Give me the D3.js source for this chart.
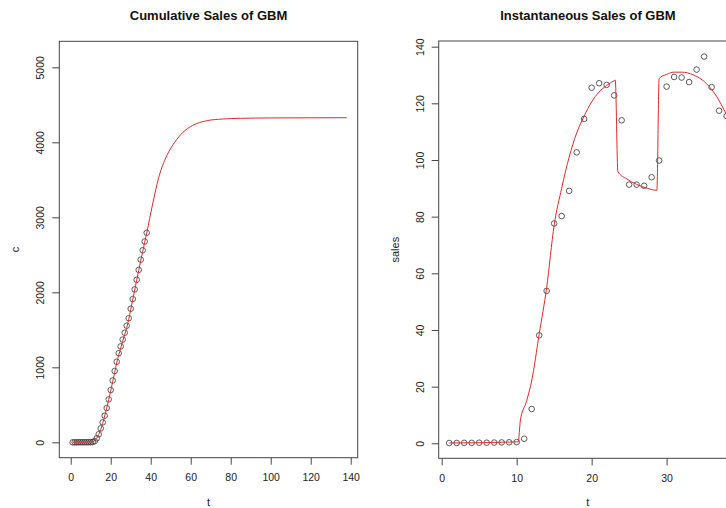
<!DOCTYPE html>
<html>
<head>
<meta charset="utf-8">
<script src="https://cdn.jsdelivr.net/npm/d3@7"></script>
<style>
  body { margin: 0; background: #fff; }
  svg { display: block; font-family: "Liberation Sans", Arial, sans-serif; }
  .tick text { fill: #222; font-size: 10.5px; }
  .tick line { stroke: #444; }
</style>
</head>
<body>
<script>
(function() {

    // Observed periods
    var times = [1, 2, 3, 4, 5, 6, 7, 8, 9, 10, 11, 12, 13, 14, 15, 16, 17, 18, 19,
                 20, 21, 22, 23, 24, 25, 26, 27, 28, 29, 30, 31, 32, 33, 34, 35, 36, 37, 38];

    // Instantaneous sales (right panel points)
    var sales = [0.1, 0.1, 0.15, 0.15, 0.2, 0.2, 0.25, 0.3, 0.35, 0.4,
                 1.6, 12.1, 38.1, 53.8, 77.6, 80.2, 89.1, 102.7, 114.5, 125.5,
                 127.1, 126.5, 122.8, 114.0, 91.3, 91.3, 90.9, 93.9, 99.8, 125.9,
                 129.3, 129.1, 127.5, 131.9, 136.5, 125.7, 117.4, 115.5];

    // Cumulative sales (left panel points)
    var cumSales = [0, 0, 0, 1, 1, 1, 1, 1, 2, 2,
                    4, 16, 54, 108, 185, 266, 355, 457, 572, 697,
                    825, 951, 1074, 1188, 1279, 1370, 1461, 1555, 1655, 1781,
                    1910, 2039, 2167, 2299, 2435, 2561, 2678, 2794];

    // Fitted GBM cumulative curve
    var fitCumT = [1, 10, 11, 12, 13, 14, 15, 16, 17, 18, 19, 20, 21, 22, 23, 24, 25, 26, 27, 28,
                   29, 30, 31, 32, 33, 34, 35, 36, 37, 38, 41, 44, 48, 52, 56, 61, 68, 76, 85, 100, 120, 138];
    var fitCum = [0, 3, 7, 25, 55, 103, 170, 254, 350, 455, 568, 686, 808, 933, 1060, 1163, 1256, 1347, 1438, 1528,
                  1640, 1770, 1900, 2031, 2162, 2292, 2420, 2545, 2668, 2790, 3180, 3530, 3820, 4000, 4130, 4225, 4288, 4311, 4320, 4325, 4327, 4328];

    // Fitted GBM instantaneous curve
    var fitInstT = [1, 10.2, 10.5, 11.3, 12, 13, 14, 15, 16, 17, 18, 19, 20, 21, 22, 23, 23.15,
                    23.5, 24.7, 26, 27.3, 28.7, 29.0, 30, 31, 32, 33.6, 35.3, 36.7, 37.8, 39];
    var fitInst = [0.1, 0.5, 8.2, 14.7, 22, 38.5, 55, 77, 90, 101, 109.5, 115.5, 120.5, 124, 126.3, 128, 128.2,
                   95.9, 93.3, 91.4, 90.1, 89.3, 128.8, 130.2, 131, 131, 130, 127, 122.3, 117, 111];

    // Tick labels
    var cumXTicks = [0, 20, 40, 60, 80, 100, 120, 140];
    var cumYTicks = [0, 1000, 2000, 3000, 4000, 5000];
    var instXTicks = [0, 10, 20, 30];
    var instYTicks = [0, 20, 40, 60, 80, 100, 120, 140];

    var W = 726, H = 508;
    var svg = d3.select('body').append('svg')
        .attr('width', W)
        .attr('height', H);

    function panel(opts) {
        var box = opts.box;
        var x = d3.scaleLinear().domain(opts.xDomain).range([box.left, box.right]);
        var y = d3.scaleLinear().domain(opts.yDomain).range([box.bottom, box.top]);

        var g = svg.append('g');

        // Title
        g.append('text')
            .attr('x', (box.left + box.right) / 2)
            .attr('y', 20)
            .attr('text-anchor', 'middle')
            .style('font-weight', 'bold')
            .style('font-size', '13px')
            .attr('fill', '#111')
            .text(opts.title);

        // x axis
        var xa = g.append('g')
            .attr('transform', 'translate(0,' + box.bottom + ')')
            .call(d3.axisBottom(x).tickValues(opts.xTicks).tickSize(7).tickPadding(9)
                .tickFormat(d3.format('d')));
        xa.select('.domain').remove();

        // y axis with rotated labels
        var ya = g.append('g')
            .attr('transform', 'translate(' + box.left + ',0)')
            .call(d3.axisLeft(y).tickValues(opts.yTicks).tickSize(7)
                .tickFormat(d3.format('d')));
        ya.select('.domain').remove();
        ya.selectAll('.tick text')
            .attr('transform', 'rotate(-90)')
            .attr('x', 0)
            .attr('y', -15)
            .attr('dy', 0)
            .style('text-anchor', 'middle');

        // Axis titles
        g.append('text')
            .attr('x', (box.left + box.right) / 2)
            .attr('y', 506)
            .attr('text-anchor', 'middle')
            .style('font-size', '11px')
            .attr('fill', '#222')
            .text('t');
        g.append('text')
            .attr('transform', 'translate(' + (box.left - 40) + ',' + ((box.top + box.bottom) / 2) + ') rotate(-90)')
            .attr('text-anchor', 'middle')
            .style('font-size', '11px')
            .attr('fill', '#222')
            .text(opts.yLabel);

        // Plot box
        g.append('rect')
            .attr('x', box.left)
            .attr('y', box.top)
            .attr('width', box.right - box.left)
            .attr('height', box.bottom - box.top)
            .attr('fill', 'none')
            .attr('stroke', '#444')
            .attr('stroke-width', 1);

        // Points
        g.append('g').selectAll('circle')
            .data(opts.px.map(function(d, i) { return [d, opts.py[i]]; }))
            .enter().append('circle')
            .attr('cx', function(d) { return x(d[0]); })
            .attr('cy', function(d) { return y(d[1]); })
            .attr('r', 2.8)
            .attr('fill', 'none')
            .attr('stroke', '#333')
            .attr('stroke-width', 0.8);

        // Fitted line
        var line = d3.line()
            .x(function(d) { return x(d[0]); })
            .y(function(d) { return y(d[1]); })
            .curve(d3.curveMonotoneX);
        g.append('path')
            .datum(opts.lx.map(function(d, i) { return [d, opts.ly[i]]; }))
            .attr('d', line)
            .attr('fill', 'none')
            .attr('stroke', '#dd2b2b')
            .attr('stroke-width', 1);
    }

    panel({
        title: 'Cumulative Sales of GBM',
        box: {left: 59.3, right: 357.7, top: 41.3, bottom: 457.7},
        xDomain: [-5.7, 143.5],
        yDomain: [-205, 5347],
        xTicks: cumXTicks,
        yTicks: cumYTicks,
        yLabel: 'c',
        px: times, py: cumSales,
        lx: fitCumT, ly: fitCum
    });

    panel({
        title: 'Instantaneous Sales of GBM',
        box: {left: 438.7, right: 737.1, top: 41, bottom: 458.3},
        xDomain: [-0.4, 39.4],
        yDomain: [-5.3, 142.0],
        xTicks: instXTicks,
        yTicks: instYTicks,
        yLabel: 'sales',
        px: times, py: sales,
        lx: fitInstT, ly: fitInst
    });

})();
</script>
</body>
</html>
